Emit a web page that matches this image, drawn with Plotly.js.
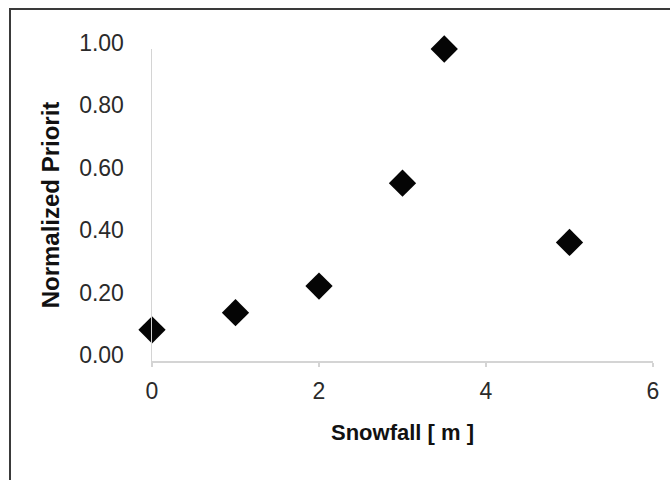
<!DOCTYPE html>
<html>
<head>
<meta charset="utf-8">
<script src="https://cdn.plot.ly/plotly-3.0.1.min.js"></script>
<style>html,body{margin:0;padding:0;background:#fff;}#chart{width:670px;height:480px;}</style>
</head>
<body>
<div id="chart"></div>
<script>
const snowfall = [0, 1, 2, 3, 3.5, 5];
const priority = [0.10, 0.155, 0.24, 0.57, 1.00, 0.38];
const xTicks = [0, 2, 4, 6];
const yTicks = [0, 0.2, 0.4, 0.6, 0.8, 1.0];
const yTickLabels = ["0.00", "0.20", "0.40", "0.60", "0.80", "1.00"];
const xTitle = "Snowfall [ m ]";
const yTitle = "Normalized Priorit";

const trace = {
  x: snowfall, y: priority, type: 'scatter', mode: 'markers',
  cliponaxis: false,
  marker: {symbol: 'diamond', size: 21, color: '#050505', line: {width: 0}},
  hoverinfo: 'x+y'
};

const layout = {
  width: 670, height: 480,
  margin: {l: 152, r: 17, t: 49, b: 119, pad: 0},
  paper_bgcolor: '#ffffff', plot_bgcolor: '#ffffff',
  showlegend: false,
  font: {family: 'Liberation Sans, Arial, sans-serif', color: '#1a1a1a'},
  xaxis: {
    range: [0, 6], tickvals: xTicks, ticktext: xTicks.map(String),
    showgrid: false, zeroline: false,
    showline: true, linecolor: '#d4d4d4', linewidth: 1.5,
    ticks: 'outside', ticklen: 4, tickcolor: '#d4d4d4', tickwidth: 1.5,
    ticklabelstandoff: 5,
    tickfont: {size: 23, color: '#2a2a2a'},
    title: {text: xTitle, font: {size: 22, color: '#111', weight: 'bold'}, standoff: 21}
  },
  yaxis: {
    range: [0, 1], tickvals: yTicks, ticktext: yTickLabels,
    showgrid: false, zeroline: false,
    showline: true, linecolor: '#d4d4d4', linewidth: 1.5,
    ticks: '', ticklabelstandoff: 22, ticklabelshift: -6,
    tickfont: {size: 23, color: '#2a2a2a'},
    title: {text: yTitle, font: {size: 24, color: '#111', weight: 'bold'}, standoff: 12}
  },
  shapes: [{
    type: 'rect', xref: 'paper', yref: 'paper',
    x0: (10 - 152) / 501, x1: (690 - 152) / 501,
    y0: (361 - 500) / 312, y1: (361 - 9) / 312,
    line: {color: '#3a3a3a', width: 2}, fillcolor: 'rgba(0,0,0,0)', layer: 'below'
  }]
};

Plotly.newPlot('chart', [trace], layout, {displayModeBar: false, staticPlot: true});
</script>
</body>
</html>
